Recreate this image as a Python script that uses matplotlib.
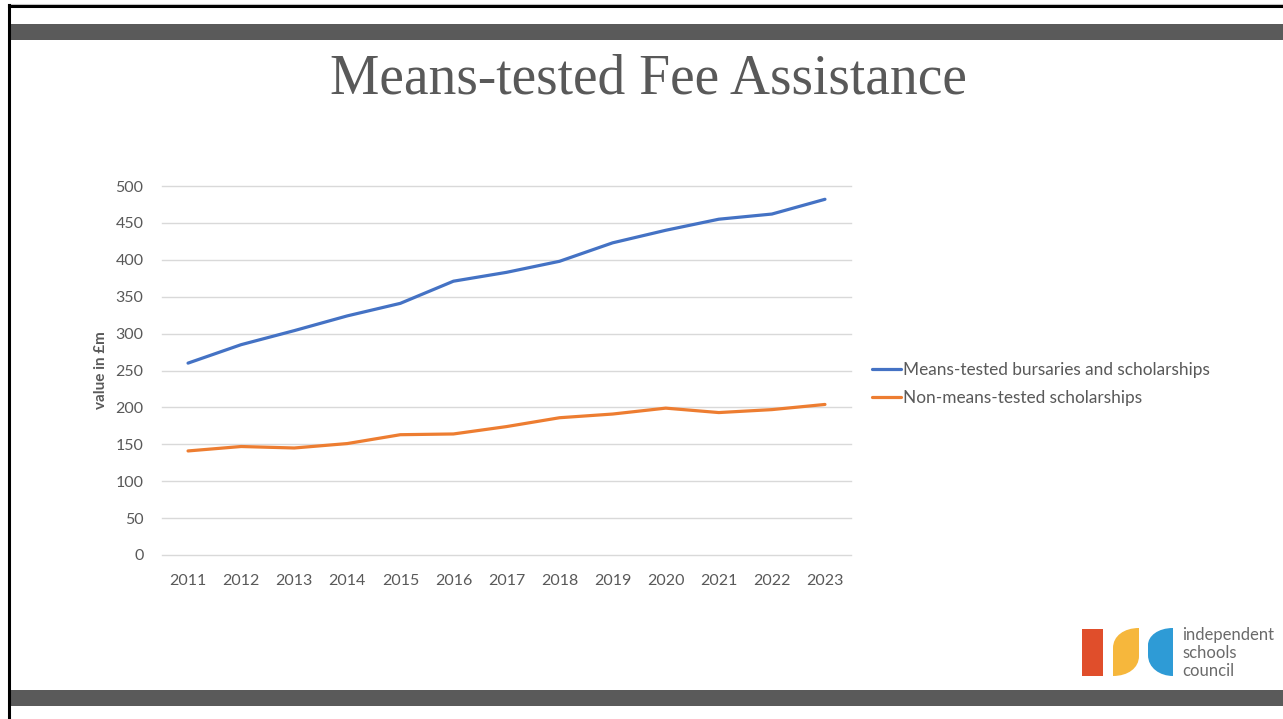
import matplotlib
matplotlib.use('Agg')
import matplotlib.pyplot as plt
from matplotlib.patches import Rectangle, PathPatch
from matplotlib.path import Path
from matplotlib.lines import Line2D

# Data
years = ['2011', '2012', '2013', '2014', '2015', '2016', '2017',
         '2018', '2019', '2020', '2021', '2022', '2023']
means_tested = [260, 285, 304, 324, 341, 371, 383, 398, 423, 440, 455, 462, 482]
non_means_tested = [141, 147, 145, 151, 163, 164, 174, 186, 191, 199, 193, 197, 204]
series_labels = ['Means-tested bursaries and scholarships', 'Non-means-tested scholarships']
yticks = [0, 50, 100, 150, 200, 250, 300, 350, 400, 450, 500]

W, H = 1283, 719
text_grey = '#595959'

fig = plt.figure(figsize=(W / 100, H / 100), dpi=100)

def fx(px):
    return px / W

def fy(py):
    return 1 - py / H

# slide frame
fig.add_artist(Line2D([fx(8), 1], [fy(4), fy(4)], color='#c8c8c8', lw=0.8))
fig.add_artist(Line2D([fx(9), 1], [fy(6), fy(6)], color='black', lw=2.2))
fig.add_artist(Line2D([fx(9), fx(9)], [fy(5), 0], color='black', lw=2.2))
fig.add_artist(Rectangle((fx(10), fy(40)), 1, (40 - 24) / H, color='#5a5a5a', lw=0))
fig.add_artist(Rectangle((fx(10), fy(706)), 1, (706 - 690) / H, color='#5a5a5a', lw=0))

fig.text(fx(648), fy(79), 'Means-tested Fee Assistance', ha='center', va='center',
         fontsize=40, family='Liberation Serif', color=text_grey)

# chart
ax = fig.add_axes([fx(161.5), fy(555), (851.5 - 161.5) / W, (555 - 186) / H])
x = range(len(years))
ax.plot(x, means_tested, color='#4472C4', lw=2.3, label=series_labels[0], solid_capstyle='round')
ax.plot(x, non_means_tested, color='#ED7D31', lw=2.3, label=series_labels[1], solid_capstyle='round')
ax.set_xlim(-0.5, len(years) - 0.5)
ax.set_ylim(0, 500)
ax.set_xticks(list(x))
ax.set_xticklabels(years)
ax.set_yticks(yticks)
ax.grid(axis='y', color='#d9d9d9', lw=1)
for gl in ax.get_ygridlines():
    gl.set_clip_on(False)
ax.set_axisbelow(True)
for s in ax.spines.values():
    s.set_visible(False)
ax.tick_params(length=0, labelsize=11.5, labelcolor=text_grey)
ax.tick_params(axis='y', pad=13)
ax.tick_params(axis='x', pad=14)
for lab in ax.get_xticklabels() + ax.get_yticklabels():
    lab.set_family('Lato')
ax.set_ylabel('value in £m', fontsize=11, fontweight='bold', color=text_grey,
              family='Lato', labelpad=5)

fig.legend(loc='center left', bbox_to_anchor=(fx(872), fy(384)), frameon=False,
           prop={'family': 'Lato', 'size': 12.4}, labelcolor=text_grey,
           handlelength=1.7, handletextpad=0.1, labelspacing=0.75, borderpad=0,
           borderaxespad=0)

# logo
fig.add_artist(Rectangle((fx(1082), fy(676)), 21 / W, 47 / H, color='#E04E2B', lw=0))

def shape(points_px, codes, color):
    verts = [(fx(a), fy(b)) for a, b in points_px]
    p = PathPatch(Path(verts, codes), facecolor=color, edgecolor='none',
                  transform=fig.transFigure)
    fig.add_artist(p)

C = Path.CURVE4
# yellow leaf: rounded top-right and bottom-left
shape([(1113, 676), (1113, 648),
       (1113, 636), (1124, 628), (1139, 628),
       (1139, 656),
       (1139, 668), (1128, 676), (1113, 676),
       (1113, 676)],
      [Path.MOVETO, Path.LINETO, C, C, C, Path.LINETO, C, C, C, Path.CLOSEPOLY],
      '#F6B73C')
# blue: straight right side, rounded left
shape([(1173, 628), (1173, 676), (1160, 676), (1148, 668), (1148, 655),
       (1148, 645), (1148, 636), (1158, 628), (1173, 628), (1173, 628)],
      [Path.MOVETO, Path.LINETO, C, C, C, Path.LINETO, C, C, C, Path.CLOSEPOLY],
      '#2E9BD6')

for i, word in enumerate(['independent', 'schools', 'council']):
    fig.text(fx(1182), fy(635 + 18 * i), word, ha='left', va='center',
             fontsize=12, family='Lato', color='#6a6a6a')

fig.savefig('out.png', dpi=100, facecolor='white')
